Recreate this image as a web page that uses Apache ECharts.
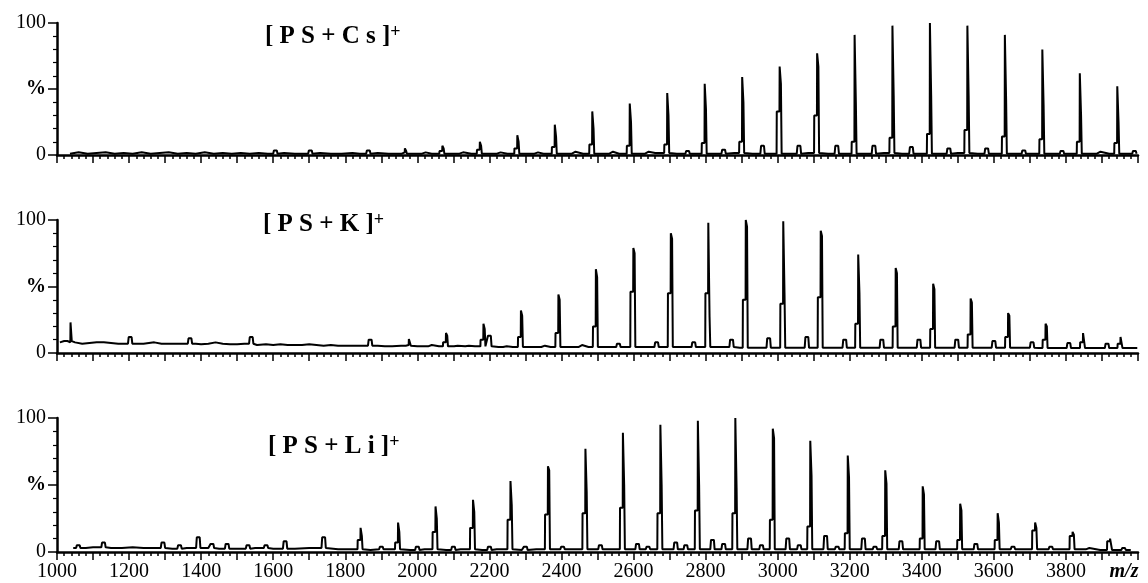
<!DOCTYPE html>
<html>
<head>
<meta charset="utf-8">
<script src="https://cdn.jsdelivr.net/npm/echarts/dist/echarts.min.js"></script>
<style>
  html, body { margin: 0; padding: 0; background: #fff; }
  #chart { width: 1148px; height: 583px; }
</style>
</head>
<body>
<div id="chart"></div>
<script>
// x axis tick labels (every 200, last one is the unit)
var xTickLabels = ['1000', '1200', '1400', '1600', '1800', '2000', '2200', '2400', '2600', '2800', '3000', '3200', '3400', '3600', '3800'];
var yTickLabels = ['0', '%', '100'];

// ---- [PS+Cs]+ ----
var csBaseMz = [1036, 1060, 1085, 1110, 1135, 1160, 1185, 1210, 1235, 1260, 1285, 1310, 1335, 1360, 1385, 1410, 1435, 1460, 1485, 1510, 1535, 1560, 1585, 1630, 1660, 1680, 1730, 1760, 1790, 1820, 1840, 1890, 1920, 1940, 2000, 2040, 2100, 2150, 2200, 2250, 2300, 2350, 2400, 2460, 2510, 2560, 2610, 2660, 2720, 2770, 2820, 2880, 2930, 2980, 3035, 3085, 3140, 3190, 3240, 3295, 3345, 3400, 3450, 3500, 3555, 3605, 3660, 3710, 3760, 3815, 3865, 3920, 3970, 3998];
var csBaseVal = [1, 2, 1, 1.5, 2, 1, 1.5, 1, 2, 1, 1.5, 2, 1, 1.5, 1, 2, 1, 1.5, 1, 1.5, 1, 1.5, 1, 1.5, 1, 1, 1.5, 1, 1, 1.5, 1, 1.5, 1, 1, 1, 1, 1, 1, 1, 1, 1, 1, 1, 1, 1, 1, 1, 1.5, 1, 1, 1, 1.5, 1, 1, 1, 1.5, 1, 1, 1, 1.5, 1, 1, 1, 1.5, 1, 1, 1, 1, 1, 1, 1, 1, 1, 1];
var csPeakMz = [1967, 2071, 2175, 2279, 2383, 2487, 2591, 2695, 2799, 2903, 3007, 3111, 3215, 3320, 3424, 3528, 3632, 3736, 3840, 3944];
var csPeakTop = [5, 7, 10, 15, 23, 33, 39, 47, 54, 59, 67, 77, 91, 98, 100, 98, 91, 80, 62, 52];
var csPeakShoulder = [2, 3, 4, 5, 6, 8, 7, 8, 9, 10, 33, 30, 10, 13, 16, 19, 14, 12, 10, 9];
var csPeakStep = [3, 5, 7, 10, 14, 20, 25, 30, 35, 40, 54, 67, 40, 45, 45, 45, 42, 38, 30, 25];
var csMinorMz = [1606, 1703, 1864, 2019, 2123, 2227, 2331, 2435, 2539, 2638, 2750, 2850, 2958, 3059, 3164, 3267, 3371, 3475, 3580, 3683, 3789, 3892, 3990];
var csMinorTop = [3.5, 3.5, 3.5, 2, 2, 2, 2, 2.5, 2.5, 2.5, 3, 4, 7, 7, 7, 7, 6, 5, 5, 3.5, 3, 2.5, 3];

// ---- [PS+K]+ ----
var kBaseMz = [1008, 1020, 1050, 1070, 1090, 1110, 1130, 1150, 1170, 1190, 1220, 1240, 1255, 1270, 1290, 1310, 1330, 1350, 1385, 1400, 1420, 1440, 1460, 1480, 1500, 1520, 1555, 1580, 1600, 1620, 1640, 1660, 1680, 1700, 1720, 1740, 1760, 1780, 1800, 1820, 1840, 1890, 1910, 1930, 1955, 2000, 2060, 2100, 2160, 2225, 2265, 2320, 2370, 2420, 2475, 2530, 2580, 2630, 2685, 2735, 2790, 2840, 2895, 2945, 3000, 3050, 3100, 3150, 3205, 3255, 3310, 3360, 3415, 3465, 3520, 3570, 3620, 3675, 3725, 3780, 3830, 3880, 3935, 3975, 3998];
var kBaseVal = [8, 9, 8, 7, 7.5, 8, 8, 7.5, 7, 7, 7, 7, 7.5, 8, 7, 7, 7, 7, 7, 6.5, 7, 8, 7, 6.5, 6.5, 7, 6, 6.5, 6, 6.5, 6, 6, 6, 6.5, 6, 5.5, 6, 5.5, 5.5, 5.5, 5.5, 5.5, 5, 5, 5.5, 5, 5, 5, 5, 4.5, 4.5, 4.5, 4.5, 4.5, 4.5, 4.5, 4.5, 4.5, 4.5, 4.5, 4.5, 4.5, 4, 4, 4, 4, 4, 4, 4, 4, 4, 4, 4, 4, 4, 4, 4, 4, 3.7, 3.7, 3.7, 3.7, 3.7, 3.7, 3.7];
var kPeakMz = [1039, 1978, 2081, 2185, 2289, 2393, 2497, 2601, 2705, 2809, 2913, 3017, 3121, 3225, 3329, 3433, 3537, 3641, 3745, 3849, 3953];
var kPeakTop = [23, 10.5, 15, 22, 32, 44, 63, 79, 90, 98, 100, 99, 92, 74, 64, 52, 41, 30, 22, 15, 12];
var kPeakShoulder = [8, 6, 8, 10, 12, 15, 20, 46, 45, 45, 40, 37, 42, 22, 20, 18, 14, 12, 10, 8, 7];
var kPeakStep = [9, 9, 13, 18, 28, 40, 57, 75, 86, 27, 95, 45, 88, 45, 60, 48, 38, 28, 20, 14, 11];
var kMinorMz = [1203, 1369, 1539, 1869, 2036, 2108, 2139, 2200, 2244, 2350, 2453, 2558, 2664, 2767, 2872, 2975, 3081, 3186, 3289, 3392, 3497, 3600, 3706, 3808, 3914];
var kMinorTop = [12, 11, 12, 10, 6, 5.5, 5.5, 13, 5, 5.5, 6, 7, 8, 8, 10, 11, 12, 10, 10, 10, 10, 9, 8, 7.5, 7];

// ---- [PS+Li]+ ----
var liBaseMz = [1045, 1080, 1100, 1150, 1180, 1210, 1240, 1270, 1320, 1360, 1420, 1450, 1500, 1550, 1600, 1660, 1700, 1780, 1810, 1870, 1900, 1930, 1980, 2020, 2080, 2120, 2180, 2220, 2290, 2330, 2390, 2430, 2490, 2540, 2595, 2640, 2700, 2750, 2800, 2850, 2905, 2960, 3010, 3060, 3110, 3160, 3215, 3265, 3320, 3370, 3425, 3480, 3530, 3580, 3635, 3685, 3740, 3790, 3840, 3895, 3945, 3980];
var liBaseVal = [3, 3, 3.5, 3, 3, 3.5, 3, 3, 2.5, 3, 3, 2.5, 2.5, 3, 2.5, 2.5, 3, 2, 2, 1.5, 2, 2, 1.5, 2, 1.5, 2, 1.5, 2, 1.5, 2, 2, 2, 2, 2, 2, 2, 2, 2, 2, 2, 2, 2, 2, 2, 2, 2, 2, 2, 2, 2, 2, 2, 2, 2, 2, 2, 2, 2, 2, 1.5, 1.5, 1.5];
var liPeakMz = [1844, 1948, 2052, 2156, 2260, 2364, 2468, 2572, 2676, 2780, 2884, 2988, 3092, 3196, 3300, 3404, 3508, 3612, 3716, 3820, 3924];
var liPeakTop = [18, 22, 34, 39, 53, 64, 77, 89, 95, 98, 100, 92, 83, 72, 61, 49, 36, 29, 22, 15, 10];
var liPeakShoulder = [9, 7, 15, 18, 24, 28, 29, 33, 29, 31, 29, 24, 19, 14, 12, 10, 9, 9, 16, 12, 8];
var liPeakStep = [12, 15, 25, 30, 35, 61, 45, 50, 50, 50, 48, 85, 57, 56, 51, 43, 31, 22, 18, 13, 9];
var liMinorMz = [1059, 1129, 1294, 1340, 1392, 1430, 1472, 1530, 1580, 1633, 1740, 1900, 2000, 2100, 2200, 2300, 2403, 2508, 2611, 2640, 2717, 2745, 2819, 2850, 2922, 2955, 3028, 3060, 3133, 3165, 3238, 3270, 3342, 3444, 3550, 3653, 3758, 3861, 3960];
var liMinorTop = [5, 7, 7, 5, 11, 6, 6, 5, 5, 8, 11, 4, 4, 4, 4, 4, 4, 5, 6, 4, 7, 5, 9, 6, 10, 5, 10, 5, 12, 4, 10, 4, 8, 8, 6, 4, 4, 3, 3];

var titles = [
  { text: '{b|[ P S + C s ]}{s|+}', left: 265, top: 23 },
  { text: '{b|[ P S + K ]}{s|+}', left: 263, top: 211 },
  { text: '{b|[ P S + L i ]}{s|+}', left: 268, top: 433 }
];

// assemble one trace: baseline points + peak outlines
function buildTrace(baseMz, baseVal, mz, top, shoulder, step, minorMz, minorTop) {
  var spans = [];
  mz.forEach(function (c) { spans.push([c - 12, c + 6]); });
  minorMz.forEach(function (c) { spans.push([c - 8, c + 8]); });
  function baseAt(x) {
    var v = baseVal[0];
    for (var i = 0; i < baseMz.length; i++) { if (baseMz[i] <= x) v = baseVal[i]; }
    return v;
  }
  var pts = [];
  baseMz.forEach(function (x, i) {
    var inside = spans.some(function (s) { return x >= s[0] && x <= s[1]; });
    if (!inside) pts.push([x, baseVal[i]]);
  });
  mz.forEach(function (c, i) {
    var b = baseAt(c);
    pts.push([c - 10, b], [c - 9.5, shoulder[i]], [c - 2, shoulder[i]], [c - 1.5, top[i]],
      [c + 1.5, top[i]], [c + 2, step[i]], [c + 3.5, step[i]], [c + 4, b]);
  });
  minorMz.forEach(function (c, i) {
    var b = baseAt(c);
    pts.push([c - 6, b], [c - 4, minorTop[i]], [c + 4, minorTop[i]], [c + 6, b]);
  });
  pts.sort(function (a, b) { return a[0] - b[0]; });
  return pts;
}

var traces = [
  buildTrace(csBaseMz, csBaseVal, csPeakMz, csPeakTop, csPeakShoulder, csPeakStep, csMinorMz, csMinorTop),
  buildTrace(kBaseMz, kBaseVal, kPeakMz, kPeakTop, kPeakShoulder, kPeakStep, kMinorMz, kMinorTop),
  buildTrace(liBaseMz, liBaseVal, liPeakMz, liPeakTop, liPeakShoulder, liPeakStep, liMinorMz, liMinorTop)
];

var serif = 'Liberation Serif';
var grids = [
  { left: 57, right: 10, top: 23, height: 132 },
  { left: 57, right: 10, top: 220, height: 133 },
  { left: 57, right: 10, top: 418, height: 134 }
];

var xAxes = [], yAxes = [], series = [];
for (var i = 0; i < 3; i++) {
  var last = i === 2;
  xAxes.push({
    type: 'value', gridIndex: i, min: 1000, max: 4000, interval: 100,
    axisLine: { show: true, onZero: false, lineStyle: { color: '#000', width: 2.5 } },
    axisTick: { show: true, length: 8, lineStyle: { color: '#000', width: 1.5 } },
    minorTick: { show: true, splitNumber: 5, length: 4, lineStyle: { color: '#000', width: 1.5 } },
    splitLine: { show: false },
    axisLabel: {
      show: last, margin: 10, color: '#000', fontFamily: serif, fontSize: 20, showMaxLabel: true,
      formatter: function (v) {
        if (v === 4000) return '{mz|m/z}';
        var s = String(v);
        return xTickLabels.indexOf(s) >= 0 ? s : '';
      },
      rich: { mz: { fontFamily: serif, fontStyle: 'italic', fontWeight: 'bold', fontSize: 20, color: '#000', padding: [0, 28, 0, 0] } }
    }
  });
  yAxes.push({
    type: 'value', gridIndex: i, min: 0, max: 100, interval: 50,
    axisLine: { show: true, lineStyle: { color: '#000', width: 2.5 } },
    axisTick: { show: true, length: 9, lineStyle: { color: '#000', width: 1.5 } },
    minorTick: { show: true, splitNumber: 5, length: 4, lineStyle: { color: '#000', width: 1.2 } },
    splitLine: { show: false },
    axisLabel: {
      margin: 11, color: '#000', fontFamily: serif, fontSize: 20,
      formatter: function (v) {
        var t = yTickLabels[v / 50];
        return t === '%' ? '{p|%}' : t;
      },
      rich: { p: { fontFamily: serif, fontWeight: 'bold', fontSize: 20, color: '#000' } }
    }
  });
  series.push({
    type: 'line', xAxisIndex: i, yAxisIndex: i, data: traces[i],
    showSymbol: false, symbol: 'none', silent: true,
    lineStyle: { color: '#000', width: 2 }
  });
}

var chart = echarts.init(document.getElementById('chart'), null, { renderer: 'canvas' });
chart.setOption({
  animation: false,
  backgroundColor: '#fff',
  title: titles.map(function (t) {
    return {
      text: t.text, left: t.left, top: t.top, padding: 0,
      textStyle: {
        rich: {
          b: { fontFamily: serif, fontWeight: 'bold', fontSize: 25, color: '#000', lineHeight: 28 },
          s: { fontFamily: serif, fontSize: 18, color: '#000', lineHeight: 14, verticalAlign: 'top' }
        }
      }
    };
  }),
  grid: grids,
  xAxis: xAxes,
  yAxis: yAxes,
  series: series
});
</script>
</body>
</html>
